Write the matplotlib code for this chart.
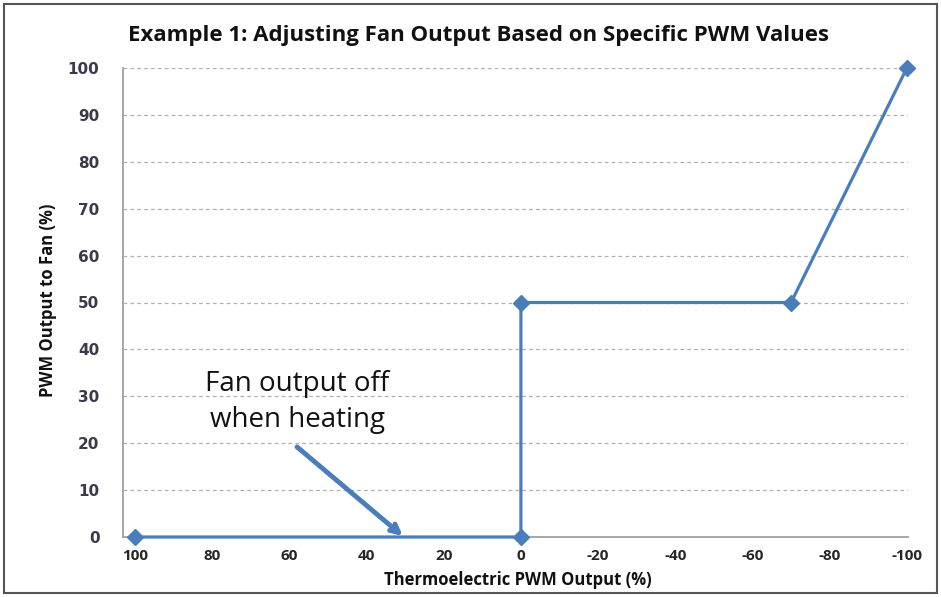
import matplotlib
matplotlib.use("Agg")
import matplotlib.pyplot as plt
from matplotlib.patches import Rectangle

# Data
te_pwm = [100, 0, 0, -70, -100]
fan_pwm = [0, 0, 50, 50, 100]
x_ticks = [100, 80, 60, 40, 20, 0, -20, -40, -60, -80, -100]
y_ticks = [0, 10, 20, 30, 40, 50, 60, 70, 80, 90, 100]
title = "Example 1: Adjusting Fan Output Based on Specific PWM Values"
xlabel = "Thermoelectric PWM Output (%)"
ylabel = "PWM Output to Fan (%)"
note = "Fan output off\nwhen heating"

blue = "#4A7EBB"
fig = plt.figure(figsize=(9.41, 5.97), dpi=100)
ax = fig.add_axes([123/941, 1-537/597, (908-123)/941, (537-68)/597])

ax.plot(te_pwm, fan_pwm, color=blue, lw=2.3, marker="D", markersize=8.5,
        markerfacecolor=blue, markeredgecolor=blue, clip_on=False, zorder=3)

ax.set_xlim(103.1, -100.3)
ax.set_ylim(0, 100)
ax.set_xticks(x_ticks)
ax.set_yticks(y_ticks)
ax.set_xticklabels([str(v) for v in x_ticks], fontsize=11, fontweight="bold",
                   color="#262626", family="Open Sans")
ax.set_yticklabels([str(v) for v in y_ticks], fontsize=11, fontweight="bold",
                   color="#3a3a4a", family="DejaVu Sans")
ax.tick_params(axis="both", length=0)
ax.tick_params(axis="x", pad=9)
ax.tick_params(axis="y", pad=17)

for v in y_ticks[1:]:
    ax.axhline(v, color="#b0b0b0", lw=0.9, ls=(0, (3, 2.5)), zorder=1)

for s in ["top", "right"]:
    ax.spines[s].set_visible(False)
ax.spines["left"].set_color("#a0a0a0")
ax.spines["bottom"].set_color("#a0a0a0")
ax.spines["left"].set_linewidth(1.3)
ax.spines["bottom"].set_linewidth(1.3)

fig.text(479/941, 1-35/597, title, ha="center", va="center",
         fontsize=16, fontweight="bold", family="Open Sans", color="#111111")
fig.text(518/941, 1-580/597, xlabel, ha="center", va="center",
         fontsize=12, fontweight="bold", family="Open Sans", color="#111111")
fig.text(48/941, 1-300/597, ylabel, ha="center", va="center", rotation=90,
         fontsize=12, fontweight="bold", family="Open Sans", color="#111111")

fig.text(297/941, 1-402/597, note, ha="center", va="center", fontsize=20,
         family="Open Sans", color="#111111", linespacing=1.4)

ax.annotate("", xy=(30.6, 0.2), xytext=(58.0, 19.2),
            arrowprops=dict(arrowstyle="->,head_length=0.6,head_width=0.3",
                            color=blue, lw=3.5, shrinkA=0, shrinkB=0), zorder=4)

fig.patches.append(Rectangle((4/941, 4/597), 933/941, 589/597, transform=fig.transFigure,
                             fill=False, edgecolor="#555555", lw=1.5))

fig.savefig("out.png", dpi=100)
